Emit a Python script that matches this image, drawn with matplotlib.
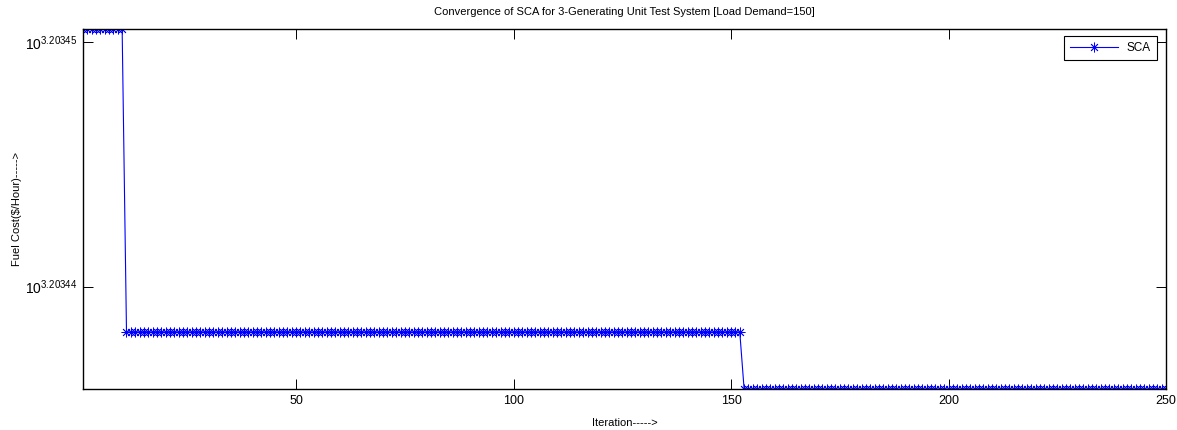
import numpy as np
import matplotlib
matplotlib.use("Agg")
import matplotlib.pyplot as plt

plt.rcParams['font.family'] = ['Liberation Sans', 'DejaVu Sans']
plt.rcParams['mathtext.fontset'] = 'custom'
plt.rcParams['mathtext.rm'] = 'Liberation Sans'
plt.rcParams['mathtext.it'] = 'Liberation Sans'

# fuel cost levels ($/Hour)
levels = [1597.5356, 1597.4900, 1597.4814]
# last iteration at each level
level_ends = [10, 152, 250]

iterations = np.arange(1, 251)
cost = np.empty(len(iterations))
start = 1
for lev, end in zip(levels, level_ends):
    cost[(iterations >= start) & (iterations <= end)] = lev
    start = end + 1

ytick_exps = [3.20344, 3.20345]
xticks = [50, 100, 150, 200, 250]

fig = plt.figure(figsize=(11.77, 4.30), dpi=100)
ax = fig.add_axes([83/1177, 1-389/430, (1166-83)/1177, (389-29)/430])

# asterisk marker like matlab's '*' (plus + cross)
ax.semilogy(iterations, cost, color='blue', linewidth=0.8, marker=(8, 2, 0),
            markersize=7, markeredgewidth=0.6, label='SCA')

ax.set_xlim(1, 250)
ax.set_ylim(cost.min(), cost.max())
ax.set_xticks(xticks)
ax.set_yticks([10**e for e in ytick_exps])
ax.set_yticklabels([r'$\mathregular{10^{%.5f}}$' % e for e in ytick_exps])
ax.yaxis.set_minor_locator(matplotlib.ticker.NullLocator())
ax.tick_params(direction='in', top=True, right=True, length=7, width=0.7,
               labelsize=9, pad=4)
ax.tick_params(axis='y', labelsize=10)

for s in ax.spines.values():
    s.set_linewidth(1.0)

ax.set_title('Convergence of SCA for 3-Generating Unit Test System [Load Demand=150]',
             fontsize=8, pad=10)
ax.set_xlabel('Iteration----->', fontsize=8, labelpad=8)
ax.set_ylabel('Fuel Cost($/Hour)----->', fontsize=8, labelpad=2)

leg = ax.legend(loc='upper right', fontsize=8.5, fancybox=False, framealpha=1,
                edgecolor='black', borderpad=0.5, handlelength=4,
                borderaxespad=0, bbox_to_anchor=(0.9917, 0.9806))
leg.get_frame().set_linewidth(0.8)

fig.savefig('out.png', dpi=100)
